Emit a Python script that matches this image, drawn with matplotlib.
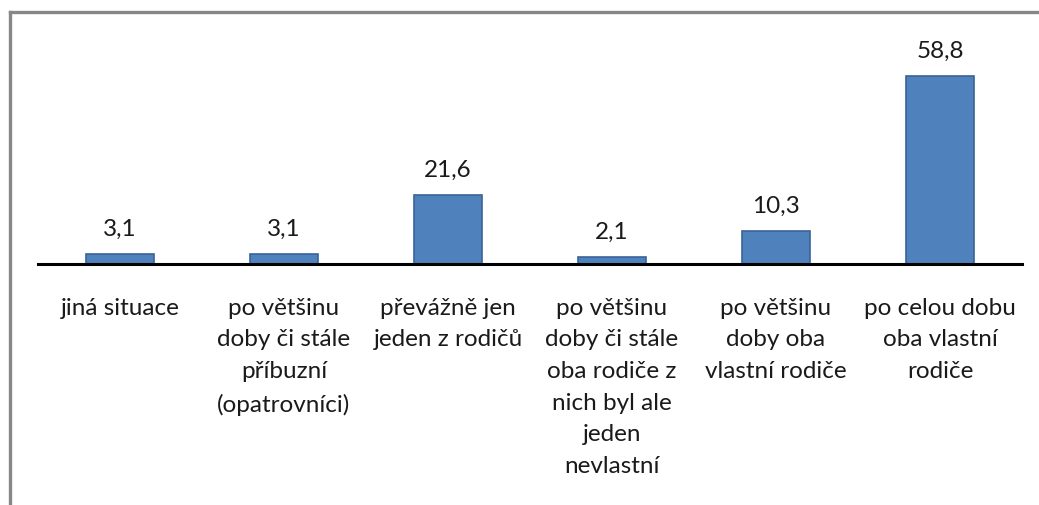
import matplotlib.pyplot as plt
from matplotlib.lines import Line2D

categories = [
    "jiná situace",
    "po většinu\ndoby či stále\npříbuzní\n(opatrovníci)",
    "převážně jen\njeden z rodičů",
    "po většinu\ndoby či stále\noba rodiče z\nnich byl ale\njeden\nnevlastní",
    "po většinu\ndoby oba\nvlastní rodiče",
    "po celou dobu\noba vlastní\nrodiče",
]
values = [3.1, 3.1, 21.6, 2.1, 10.3, 58.8]
value_labels = ["3,1", "3,1", "21,6", "2,1", "10,3", "58,8"]

W, H = 1039, 506
fig = plt.figure(figsize=(W / 100, H / 100), dpi=100)
plt.rcParams['font.family'] = ['Lato', 'DejaVu Sans']

# plot area: zero line at y=265 px, 3.2 px per unit
x0, x1 = 38, 1022
y_zero, y_top = 265, 45
ax = fig.add_axes([x0 / W, 1 - y_zero / H, (x1 - x0) / W, (y_zero - y_top) / H])
ax.set_ylim(0, (y_zero - y_top) / 3.197)
ax.set_xlim(-0.5, len(values) - 0.5)

xs = range(len(values))
ax.bar(xs, values, width=0.41, color="#4F81BD", edgecolor="#3A639A", linewidth=1.2, zorder=2)

for x, v, lab in zip(xs, values, value_labels):
    ax.annotate(lab, (x, v), xytext=(0, 11), textcoords="offset points",
                ha="center", va="bottom", fontsize=17.5, color="#1a1a1a")

for x, cat in zip(xs, categories):
    ax.annotate(cat, (x, 0), xytext=(0, -23.5), textcoords="offset points",
                ha="center", va="top", fontsize=17.5, linespacing=1.63, color="#1a1a1a",
                annotation_clip=False)

for s in ["top", "right", "left"]:
    ax.spines[s].set_visible(False)
ax.spines["bottom"].set_linewidth(2.2)
ax.spines["bottom"].set_color("black")
ax.set_xticks([])
ax.set_yticks([])

# outer chart border (top and left edges)
fig.add_artist(Line2D([10 / W, 1.01], [1 - 12.5 / H, 1 - 12.5 / H], color="#878787", lw=2.4,
                      transform=fig.transFigure))
fig.add_artist(Line2D([10 / W, 10 / W], [1 - 12.5 / H, -0.01], color="#878787", lw=2.4,
                      transform=fig.transFigure))

fig.savefig("out.png", dpi=100)
